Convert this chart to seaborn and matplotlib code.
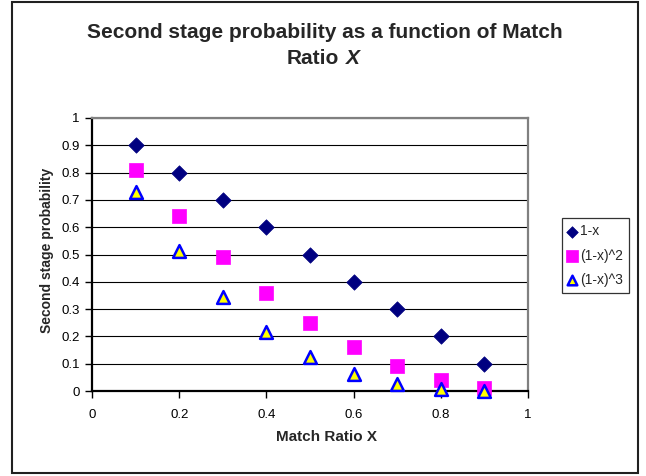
import matplotlib
matplotlib.use("Agg")
import matplotlib.pyplot as plt
import seaborn as sns
from matplotlib.patches import Rectangle

# ---- data ----
x_vals = [0.1, 0.2, 0.3, 0.4, 0.5, 0.6, 0.7, 0.8, 0.9]
y_linear = [0.9, 0.8, 0.7, 0.6, 0.5, 0.4, 0.3, 0.2, 0.1]
y_square = [0.81, 0.64, 0.49, 0.36, 0.25, 0.16, 0.09, 0.04, 0.01]
y_cube = [0.729, 0.512, 0.343, 0.216, 0.125, 0.064, 0.027, 0.008, 0.001]
series_labels = ["1-x", "(1-x)^2", "(1-x)^3"]
x_ticks = [0, 0.2, 0.4, 0.6, 0.8, 1]
x_tick_labels = ["0", "0.2", "0.4", "0.6", "0.8", "1"]
y_ticks = [0, 0.1, 0.2, 0.3, 0.4, 0.5, 0.6, 0.7, 0.8, 0.9, 1]
y_tick_labels = ["0", "0.1", "0.2", "0.3", "0.4", "0.5", "0.6", "0.7", "0.8", "0.9", "1"]
title_line1 = "Second stage probability as a function of Match"
title_line2a = "Ratio"
title_line2b = "X"
x_label = "Match Ratio X"
y_label = "Second stage probability"

sns.set_style("white")
plt.rcParams['font.family'] = ['Liberation Sans', 'DejaVu Sans']

W, H = 646, 476
fig = plt.figure(figsize=(W / 100, H / 100), dpi=100)
fig.patch.set_facecolor("white")

ax_l, ax_r, ax_t, ax_b = 92, 528, 118, 391
ax = fig.add_axes([ax_l / W, 1 - ax_b / H, (ax_r - ax_l) / W, (ax_b - ax_t) / H])

sns.scatterplot(x=x_vals, y=y_linear, marker='D', s=62, color='#000080',
                edgecolor='#000080', linewidth=0.5, ax=ax, label=series_labels[0],
                clip_on=False, zorder=3)
sns.scatterplot(x=x_vals, y=y_square, marker='s', s=112, color='#FF00FF',
                edgecolor='#FF00FF', linewidth=0.5, ax=ax, label=series_labels[1],
                clip_on=False, zorder=4)
sns.scatterplot(x=x_vals, y=y_cube, marker='^', s=85, color='#FFFF00',
                edgecolor='#0000FF', linewidth=1.8, ax=ax, label=series_labels[2],
                clip_on=False, zorder=5)

ax.set_xlim(0, 1)
ax.set_ylim(0, 1)
ax.set_xticks(x_ticks)
ax.set_xticklabels(x_tick_labels)
ax.set_yticks(y_ticks)
ax.set_yticklabels(y_tick_labels)
ax.tick_params(axis='both', direction='out', length=5, width=1, colors='black',
               labelsize=9.5, bottom=True, left=True)
ax.tick_params(axis='x', pad=8)
ax.tick_params(axis='y', pad=4)
ax.set_xlabel("")
ax.set_ylabel("")

ax.yaxis.grid(True, color='black', linewidth=0.8)
ax.xaxis.grid(False)
ax.set_axisbelow(True)

for side in ['left', 'bottom']:
    ax.spines[side].set_color('black')
    ax.spines[side].set_linewidth(1.6)
for side in ['top', 'right']:
    ax.spines[side].set_color('#808080')
    ax.spines[side].set_linewidth(1.6)

handles, labels = ax.get_legend_handles_labels()
if ax.get_legend() is not None:
    ax.get_legend().remove()
leg = fig.legend(handles, labels, loc='upper left', bbox_to_anchor=(562 / W, 1 - 218 / H),
                 bbox_transform=fig.transFigure, frameon=True, fancybox=False,
                 fontsize=10, markerscale=0.75, handlelength=0.6, handletextpad=0.25,
                 borderpad=0.45, labelspacing=0.75, borderaxespad=0)
leg.get_frame().set_edgecolor('black')
leg.get_frame().set_linewidth(0.9)

# titles and axis labels
fig.text(325 / W, 1 - 38 / H, title_line1, ha='center', va='baseline',
         fontsize=15, fontweight='bold')
fig.text(339 / W, 1 - 64 / H, title_line2a, ha='right', va='baseline',
         fontsize=15, fontweight='bold')
fig.text(346 / W, 1 - 64 / H, title_line2b, ha='left', va='baseline',
         fontsize=15, fontweight='bold', fontstyle='italic')
fig.text(326 / W, 1 - 437 / H, x_label, ha='center', va='center',
         fontsize=11, fontweight='bold')
fig.text(47 / W, 1 - 250 / H, y_label, ha='center', va='center', rotation=90,
         fontsize=10, fontweight='bold')

# outer chart border
fig.patches.append(Rectangle((12 / W, 1 - 473 / H), (638 - 12) / W, (473 - 2) / H,
                             transform=fig.transFigure, fill=False,
                             edgecolor='#202020', linewidth=1.5))

fig.savefig("out.png", dpi=100)
